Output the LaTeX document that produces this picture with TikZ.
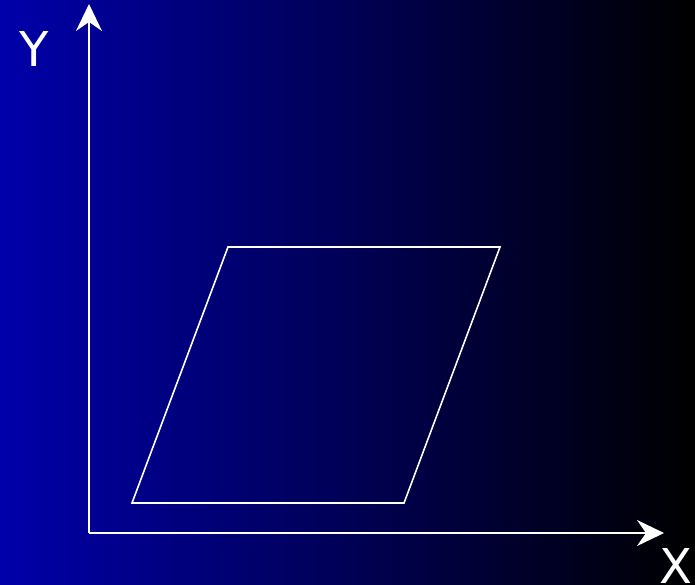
\documentclass[tikz,border=0pt]{standalone}
\usepackage{fontspec}
\setmainfont{DejaVu Sans}
\usetikzlibrary{arrows.meta}

\definecolor{bgblue}{RGB}{0,0,170}

\begin{document}
\begin{tikzpicture}[x=1pt,y=-1pt,>={Stealth[length=27pt,width=26pt,inset=9pt]},
  axis/.style={draw=white,line width=2pt},
  shapeline/.style={draw=white,line width=1.6pt},
  axlabel/.style={text=white,font=\fontsize{48}{50}\selectfont,inner sep=0pt}]
% background
\shade[left color=bgblue,right color=black] (0,0) rectangle (695,584);
\useasboundingbox (0,0) rectangle (695,584);
% axes
\coordinate (o) at (89,533);
\coordinate (ytip) at (89,4);
\coordinate (xtip) at (664,533);
\draw[axis,->] (o) -- (ytip);
\draw[axis,->] (o) -- (xtip);
\node[axlabel] (ylab) at (34,49) {Y};
\node[axlabel] (xlab) at (676,566) {X};
% parallelogram
\coordinate (p1) at (132,503);
\coordinate (p2) at (404,503);
\coordinate (p3) at (500,247);
\coordinate (p4) at (228,247);
\draw[shapeline] (p1) -- (p2) -- (p3) -- (p4) -- cycle;
\end{tikzpicture}
\end{document}
